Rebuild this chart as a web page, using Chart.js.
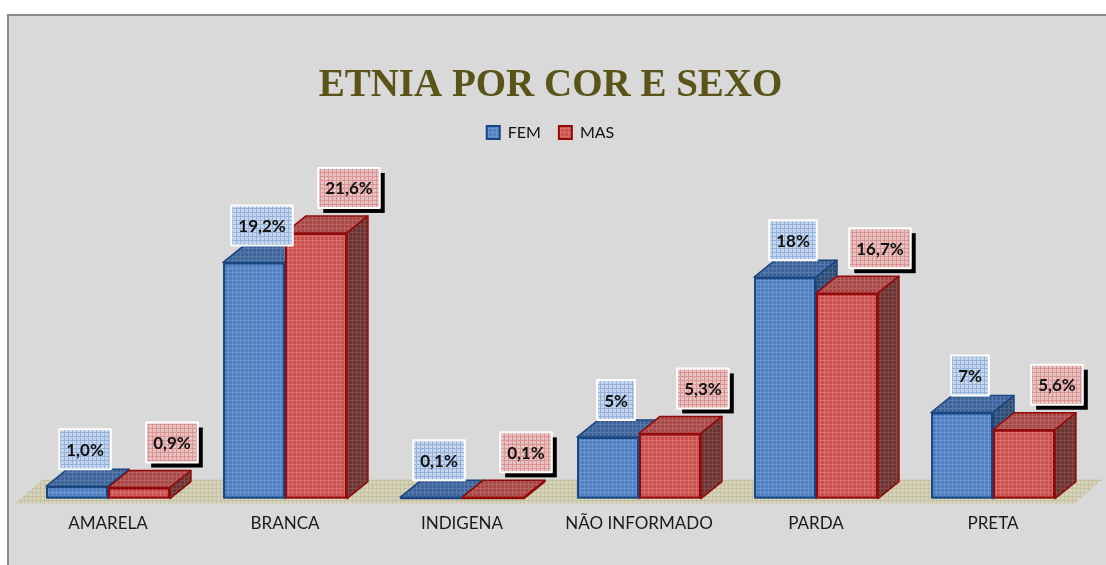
<!DOCTYPE html>
<html>
<head>
<meta charset="utf-8">
<script src="https://cdn.jsdelivr.net/npm/chart.js@4"></script>
<style>
  html, body { margin: 0; padding: 0; background: #fff; }
  #wrap { width: 1106px; height: 565px; }
</style>
</head>
<body>
<div id="wrap"><canvas id="etniaChart" width="1106" height="565"></canvas></div>
<script>
// --- dados ---
const categorias = ['AMARELA', 'BRANCA', 'INDIGENA', 'NÃO INFORMADO', 'PARDA', 'PRETA'];
const fem = [1.0, 19.2, 0.1, 5, 18, 7];
const mas = [0.9, 21.6, 0.1, 5.3, 16.7, 5.6];
const rotulosFem = ['1,0%', '19,2%', '0,1%', '5%', '18%', '7%'];
const rotulosMas = ['0,9%', '21,6%', '0,1%', '5,3%', '16,7%', '5,6%'];

// textura quadriculada tipo Excel
function textura(base, linha, size) {
    size = size || 4;
    const c = document.createElement('canvas');
    c.width = size; c.height = size;
    const g = c.getContext('2d');
    g.fillStyle = base;
    g.fillRect(0, 0, size, size);
    g.fillStyle = linha;
    g.fillRect(0, 0, size, 1);
    g.fillRect(0, 0, 1, size);
    return g.createPattern(c, 'repeat');
}

const estilo = {
    fem: {
        frente: textura('#4f7fc0', '#6b95cf'),
        topo: textura('#3f6397', '#557bb0'),
        lado: textura('#2f4b72', '#466590'),
        borda: '#1a4680',
        rotulo: textura('#c6d6ec', '#95b2dc'),
        sombra: false,
        dx: 8, dy: -17
    },
    mas: {
        frente: textura('#c9504e', '#d86f6c'),
        topo: textura('#a44948', '#bb6260'),
        lado: textura('#6a3433', '#80494a'),
        borda: '#930a0a',
        rotulo: textura('#e9c1c0', '#d99594'),
        sombra: true,
        dx: 33, dy: -25
    }
};
const chave = ['fem', 'mas'];
const rotulos = [rotulosFem, rotulosMas];

const DX = 21, DY = -17;

// fundo, moldura e piso
const fundoPlugin = {
    id: 'fundo',
    beforeDraw(chart) {
        const ctx = chart.ctx;
        ctx.save();
        ctx.fillStyle = '#ffffff';
        ctx.fillRect(0, 0, chart.width, chart.height);
        ctx.fillStyle = '#d9d9d9';
        ctx.fillRect(8, 15, chart.width, chart.height);
        ctx.strokeStyle = '#8a8a8a';
        ctx.lineWidth = 2;
        ctx.strokeRect(8, 15, chart.width + 10, chart.height + 10);
        ctx.restore();
    },
    beforeDatasetsDraw(chart) {
        const ctx = chart.ctx;
        const a = chart.chartArea;
        const y0 = chart.scales.y.getPixelForValue(0);
        ctx.save();
        ctx.fillStyle = textura('#d6d3bd', '#c6c1a0');
        ctx.beginPath();
        ctx.moveTo(a.left - 5, y0 + 5);
        ctx.lineTo(a.right - 7, y0 + 5);
        ctx.lineTo(a.right - 7 + 28, y0 + 5 - 24);
        ctx.lineTo(a.left - 5 + 28, y0 + 5 - 24);
        ctx.closePath();
        ctx.fill();
        ctx.restore();
    }
};

// barras 3D desenhadas a partir dos elementos do Chart.js (FEM primeiro, MAS por cima)
const barras3d = {
    id: 'barras3d',
    beforeDatasetDraw() {
        return false;
    },
    afterDatasetsDraw(chart) {
        const ctx = chart.ctx;
        ctx.save();
        ctx.lineJoin = 'round';
        [0, 1].forEach(di => {
            const s = estilo[chave[di]];
            chart.getDatasetMeta(di).data.forEach(bar => {
                const p = bar.getProps(['x', 'y', 'base', 'width'], true);
                const l = p.x - p.width / 2, r = p.x + p.width / 2;
                const t = p.y, b = p.base;
                ctx.strokeStyle = s.borda;
                // frente
                ctx.fillStyle = s.frente;
                ctx.fillRect(l, t, r - l, b - t);
                ctx.lineWidth = 2;
                ctx.strokeRect(l + 1, t + 1, r - l - 2, Math.max(b - t - 2, 0));
                ctx.lineWidth = 1.5;
                // topo
                ctx.fillStyle = s.topo;
                ctx.beginPath();
                ctx.moveTo(l, t);
                ctx.lineTo(l + DX, t + DY);
                ctx.lineTo(r + DX, t + DY);
                ctx.lineTo(r, t);
                ctx.closePath();
                ctx.fill();
                ctx.stroke();
                // lateral
                ctx.fillStyle = s.lado;
                ctx.beginPath();
                ctx.moveTo(r, t);
                ctx.lineTo(r + DX, t + DY);
                ctx.lineTo(r + DX, b + DY);
                ctx.lineTo(r, b);
                ctx.closePath();
                ctx.fill();
                ctx.stroke();
            });
        });

        // rótulos de dados
        ctx.font = 'bold 17px Lato';
        ctx.textAlign = 'center';
        ctx.textBaseline = 'middle';
        [0, 1].forEach(di => {
            const s = estilo[chave[di]];
            chart.getDatasetMeta(di).data.forEach((bar, i) => {
                const txt = rotulos[di][i];
                const w = ctx.measureText(txt).width + 14, h = 40;
                const cx = bar.x + s.dx;
                const bottom = bar.y + s.dy;
                const x = cx - w / 2, y = bottom - h;
                if (s.sombra) {
                    ctx.fillStyle = '#000';
                    ctx.fillRect(x + 5, y + 5, w, h);
                }
                ctx.fillStyle = s.rotulo;
                ctx.fillRect(x, y, w, h);
                ctx.strokeStyle = '#ffffff';
                ctx.lineWidth = 2;
                ctx.strokeRect(x, y, w, h);
                ctx.fillStyle = '#111';
                ctx.fillText(txt, cx, y + h / 2 + 1);
            });
        });
        ctx.restore();
    }
};

const ctx = document.getElementById('etniaChart').getContext('2d');
new Chart(ctx, {
    type: 'bar',
    data: {
        labels: categorias,
        datasets: [{
            label: 'FEM',
            data: fem,
            backgroundColor: estilo.fem.frente,
            borderColor: estilo.fem.borda,
            borderWidth: 2
        }, {
            label: 'MAS',
            data: mas,
            backgroundColor: estilo.mas.frente,
            borderColor: estilo.mas.borda,
            borderWidth: 2
        }]
    },
    options: {
        responsive: false,
        animation: false,
        layout: { padding: { left: 19.5, right: 24.5, top: 0, bottom: 16 } },
        datasets: { bar: { categoryPercentage: 0.7, barPercentage: 1 } },
        scales: {
            x: {
                grid: { display: false, drawTicks: false },
                border: { display: false },
                ticks: { padding: 15, color: '#1a1a1a', font: { family: 'Lato', size: 17 } }
            },
            y: { display: false, min: 0, max: 28.3 }
        },
        plugins: {
            title: {
                display: true,
                text: 'ETNIA POR COR E SEXO',
                color: '#5a5418',
                font: { family: 'Liberation Serif', size: 39, weight: 'bold', lineHeight: 1.0 },
                padding: { top: 66, bottom: 1.5 }
            },
            legend: {
                labels: {
                    boxWidth: 13,
                    boxHeight: 13,
                    padding: 18,
                    color: '#111',
                    font: { family: 'Lato', size: 16 }
                }
            },
            tooltip: { enabled: false }
        }
    },
    plugins: [fundoPlugin, barras3d]
});
</script>
</body>
</html>
